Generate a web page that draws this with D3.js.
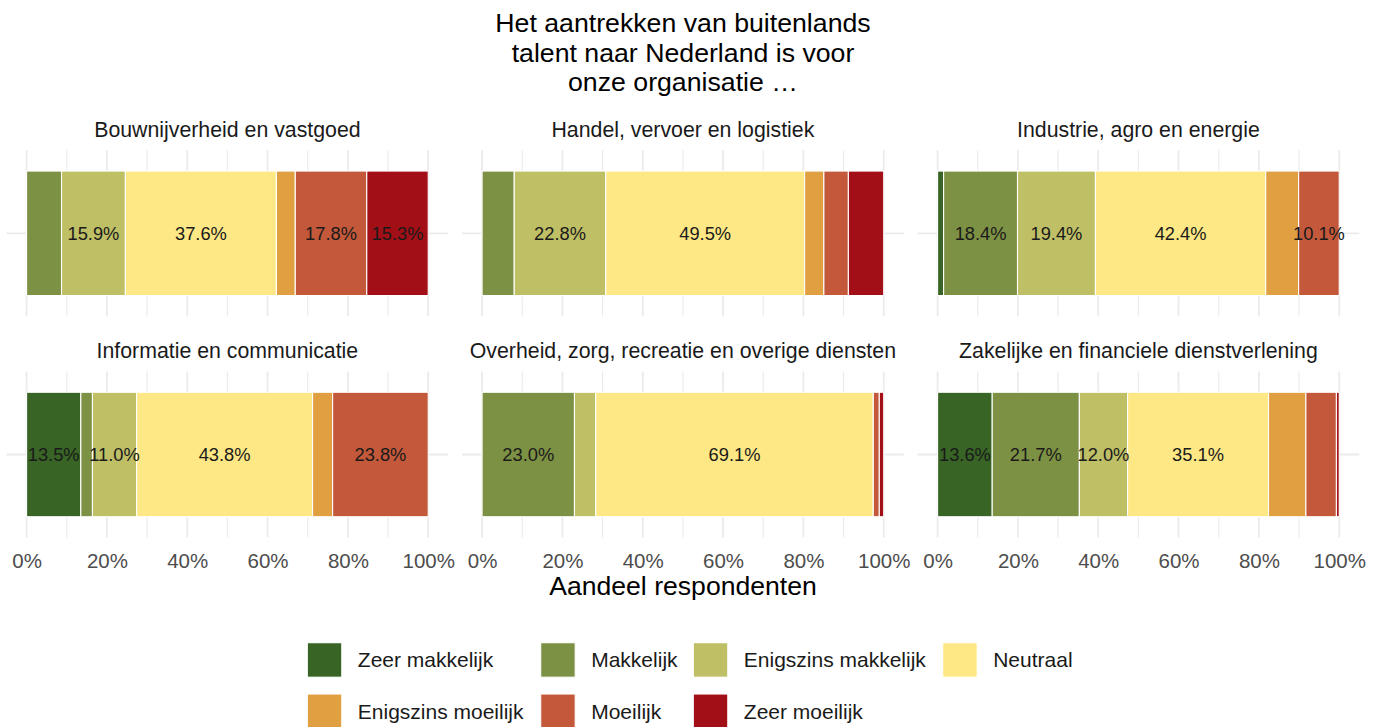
<!DOCTYPE html>
<html>
<head>
<meta charset="utf-8">
<script src="https://cdn.jsdelivr.net/npm/d3@7"></script>
<style>
  html, body { margin: 0; padding: 0; background: #ffffff; }
  svg { display: block; font-family: "Liberation Sans", Arial, Helvetica, sans-serif; }
</style>
</head>
<body>
<svg id="chart" width="1382" height="727"></svg>
<script>
// Sectors (facet panels), in reading order
const sectors = [
  "Bouwnijverheid en vastgoed",
  "Handel, vervoer en logistiek",
  "Industrie, agro en energie",
  "Informatie en communicatie",
  "Overheid, zorg, recreatie en overige diensten",
  "Zakelijke en financiele dienstverlening"
];

// Answer categories, from easy to difficult
const responses = [
  "Zeer makkelijk", "Makkelijk", "Enigszins makkelijk", "Neutraal",
  "Enigszins moeilijk", "Moeilijk", "Zeer moeilijk"
];
const responseColors = [
  "#386425", "#7d9144", "#bfbf66", "#fee885",
  "#e0a042", "#c3583a", "#a30f16"
];

// Share of respondents (%) per sector, one array per answer category
const zeerMakkelijk      = [0.0,  0.0,  1.5, 13.5,  0.0, 13.6];
const makkelijk          = [8.7,  8.0, 18.4,  2.9, 23.0, 21.7];
const enigszinsMakkelijk = [15.9, 22.8, 19.4, 11.0,  5.3, 12.0];
const neutraal           = [37.6, 49.5, 42.4, 43.8, 69.1, 35.1];
const enigszinsMoeilijk  = [4.7,  4.8,  8.2,  5.0,  0.0,  9.3];
const moeilijk           = [17.8,  6.1, 10.1, 23.8,  1.5,  7.6];
const zeerMoeilijk       = [15.3,  8.8,  0.0,  0.0,  1.1,  0.7];

const xTicks = [0, 20, 40, 60, 80, 100];
const xMinor = [10, 30, 50, 70, 90];

const titleLines = [
  "Het aantrekken van buitenlands",
  "talent naar Nederland is voor",
  "onze organisatie \u2026"
];
const xAxisTitle = "Aandeel respondenten";

// ---- build table ----
const seriesValues = [zeerMakkelijk, makkelijk, enigszinsMakkelijk, neutraal,
                      enigszinsMoeilijk, moeilijk, zeerMoeilijk];
const rows = sectors.map((s, i) => {
  const r = { sector: s };
  responses.forEach((resp, j) => { r[resp] = seriesValues[j][i]; });
  return r;
});
const stacked = d3.stack().keys(responses)(rows);

const color = d3.scaleOrdinal().domain(responses).range(responseColors);

// ---- layout ----
const svg = d3.select("#chart");
const panelW = 441.8, panelH = 166, gapX = 13.7;
const panelX0 = 6.5;
const panelY = [150.3, 371.5];
const ncol = 3;

// x scale with 5% expansion either side of [0, 100]
const x = d3.scaleLinear().domain([-5, 105]).range([0, panelW]);
// discrete y with 0.6 expansion: bar occupies 0.55..1.45 within 0.4..1.6
const y = d3.scaleLinear().domain([0.4, 1.6]).range([0, panelH]);

// title
const title = svg.append("g").attr("text-anchor", "middle").attr("fill", "#000");
titleLines.forEach((t, i) => {
  title.append("text")
    .attr("x", 683).attr("y", 32 + i * 29.5)
    .attr("font-size", 26.7).text(t);
});

const fmt = d3.format(".1f");

sectors.forEach((sector, i) => {
  const col = i % ncol, row = Math.floor(i / ncol);
  const g = svg.append("g")
    .attr("transform", `translate(${panelX0 + col * (panelW + gapX)},${panelY[row]})`);

  // grid: minor then major verticals, one horizontal major at the category
  g.selectAll(".minor").data(xMinor).join("line")
    .attr("x1", d => x(d)).attr("x2", d => x(d))
    .attr("y1", 0).attr("y2", panelH)
    .attr("stroke", "#ebebeb").attr("stroke-width", 1.1);
  g.selectAll(".major").data(xTicks).join("line")
    .attr("x1", d => x(d)).attr("x2", d => x(d))
    .attr("y1", 0).attr("y2", panelH)
    .attr("stroke", "#ebebeb").attr("stroke-width", 1.8);
  g.append("line")
    .attr("x1", 0).attr("x2", panelW)
    .attr("y1", y(1)).attr("y2", y(1))
    .attr("stroke", "#ebebeb").attr("stroke-width", 1.8);

  // strip label
  g.append("text")
    .attr("x", panelW / 2).attr("y", -13.5)
    .attr("text-anchor", "middle")
    .attr("font-size", 21.3).attr("fill", "#1a1a1a")
    .text(sector);

  // stacked segments
  const segs = stacked.map(s => ({ key: s.key, v0: s[i][0], v1: s[i][1] }))
    .filter(d => d.v1 - d.v0 > 0);
  g.selectAll("rect.seg").data(segs).join("rect")
    .attr("class", "seg")
    .attr("x", d => x(d.v0))
    .attr("width", d => x(d.v1) - x(d.v0))
    .attr("y", y(0.55))
    .attr("height", y(1.45) - y(0.55))
    .attr("fill", d => color(d.key))
    .attr("stroke", "#ffffff").attr("stroke-width", 1.1);

  // value labels for segments of at least 10%
  g.selectAll("text.val").data(segs.filter(d => d.v1 - d.v0 >= 10)).join("text")
    .attr("class", "val")
    .attr("x", d => x((d.v0 + d.v1) / 2))
    .attr("y", y(1))
    .attr("dy", "0.35em")
    .attr("text-anchor", "middle")
    .attr("font-size", 18.3).attr("fill", "#1a1a1a")
    .text(d => fmt(d.v1 - d.v0) + "%");

  // x axis on the bottom row only
  if (row === 1) {
    const ax = g.append("g")
      .attr("transform", `translate(0,${panelH})`)
      .call(d3.axisBottom(x).tickValues(xTicks).tickFormat(d => d + "%")
        .tickSize(0).tickPadding(16));
    ax.select(".domain").remove();
    ax.selectAll("text")
      .attr("font-size", 20.5).attr("fill", "#4d4d4d")
      .attr("font-family", "Liberation Sans, Arial, Helvetica, sans-serif");
  }
});

// axis title
svg.append("text")
  .attr("x", 683).attr("y", 595)
  .attr("text-anchor", "middle")
  .attr("font-size", 26.6).attr("fill", "#000")
  .text(xAxisTitle);

// legend: two rows, filled row by row
const legendColX = [307.3, 540.7, 693.3, 942.7];
const legendRowY = [642.7, 694];
const keySize = 34.5;
const legend = svg.append("g");
responses.forEach((resp, k) => {
  const c = k % 4, r = Math.floor(k / 4);
  const lg = legend.append("g")
    .attr("transform", `translate(${legendColX[c]},${legendRowY[r]})`);
  lg.append("rect")
    .attr("width", keySize).attr("height", keySize)
    .attr("fill", color(resp))
    .attr("stroke", "#ffffff").attr("stroke-width", 1.1);
  lg.append("text")
    .attr("x", keySize + 16).attr("y", keySize / 2)
    .attr("dy", "0.35em")
    .attr("font-size", 21).attr("fill", "#1a1a1a")
    .text(resp);
});
</script>
</body>
</html>
